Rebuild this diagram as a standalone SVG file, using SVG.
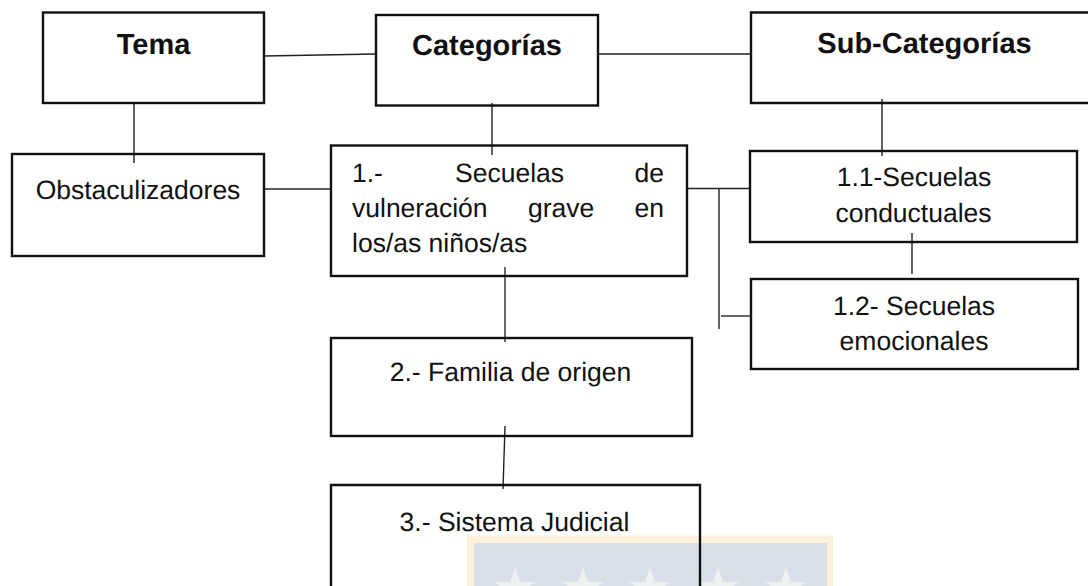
<svg xmlns="http://www.w3.org/2000/svg" width="1088" height="586" viewBox="0 0 1088 586">
<style>
text{font-family:"Liberation Sans",Arial,sans-serif;font-size:26.5px;fill:#111;text-rendering:geometricPrecision}
.h{font-size:29px;font-weight:bold;text-anchor:middle}
.c{text-anchor:middle}
.e{text-anchor:end}
.b{fill:none;stroke:#111;stroke-width:2.4}
.l{fill:none;stroke:#222;stroke-width:1.4}
</style>
<defs><polygon id="star" points="0,-22 5,-7 21,-7 8,2 13,18 0,8 -13,18 -8,2 -21,-7 -5,-7"/></defs>
<g id="watermark">
<rect x="467" y="535.500" width="366" height="51" fill="#fdf1dc"/>
<rect x="474" y="543" width="353" height="43" fill="#d9e0e8"/>
<g fill="#eef0f1">
<use href="#star" x="515" y="589"/><use href="#star" x="583" y="589"/><use href="#star" x="650" y="589"/><use href="#star" x="718" y="589"/><use href="#star" x="786" y="589"/>
</g>
</g>
<g id="connectors">
<path class="l" d="M264 56L376 54"/>
<path class="l" d="M598 54H751"/>
<path class="l" d="M134 103V163"/>
<path class="l" d="M492 103V155"/>
<path class="l" d="M882 99V156"/>
<path class="l" d="M264 189H331"/>
<path class="l" d="M687 188.500H750"/>
<path class="l" d="M719 189V329"/>
<path d="M721 316H751" fill="none" stroke="#555" stroke-width="1.800"/>
<path class="l" d="M912 233V274"/>
<path d="M505 267V342" fill="none" stroke="#444" stroke-width="1.600"/>
<path class="l" d="M505 426L503 489"/>
</g>
<g id="tema"><rect class="b" x="43" y="12.500" width="221" height="90.500"/><text class="h" x="153.500" y="54">Tema</text></g>
<g id="categorias"><rect class="b" x="376" y="15" width="222" height="90.500"/><text class="h" x="487" y="55">Categorías</text></g>
<g id="subcategorias"><path class="b" d="M1090 12.500H751V103H1090"/><text class="h" x="924.500" y="53">Sub-Categorías</text></g>
<g id="obstaculizadores"><rect class="b" x="12" y="154" width="252" height="102"/><text class="c" x="138" y="199">Obstaculizadores</text></g>
<g id="secuelas"><rect class="b" x="331" y="145.500" width="356" height="130.500"/>
<text x="352" y="182">1.-</text><text x="455" y="182">Secuelas</text><text class="e" x="664" y="182">de</text>
<text x="352" y="217">vulneración</text><text x="528" y="217">grave</text><text class="e" x="664" y="217">en</text>
<text x="352" y="252">los/as niños/as</text></g>
<g id="s11"><rect class="b" x="750" y="151" width="327" height="91"/><text class="c" x="914" y="186">1.1-Secuelas</text><text class="c" x="913.500" y="222">conductuales</text></g>
<g id="s12"><rect class="b" x="751" y="279" width="327" height="90"/><text class="c" x="914" y="315">1.2- Secuelas</text><text class="c" x="914" y="350">emocionales</text></g>
<g id="familia"><rect class="b" x="331" y="338" width="361" height="98"/><text class="c" x="510.500" y="381">2.- Familia de origen</text></g>
<g id="sistema"><path class="b" d="M331 588V485H700V588"/><text class="c" x="514.500" y="531">3.- Sistema Judicial</text></g>
</svg>
